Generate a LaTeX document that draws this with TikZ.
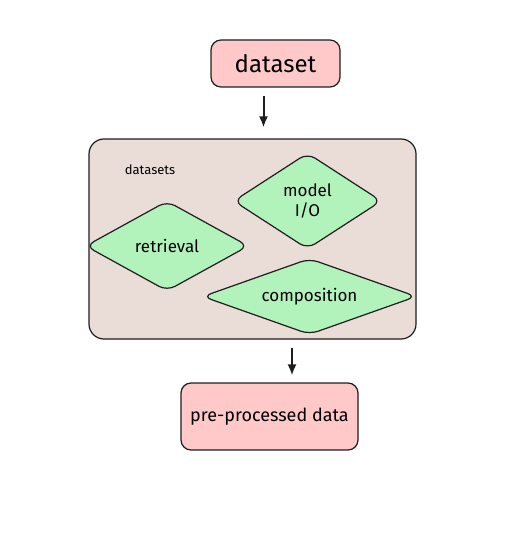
\documentclass[tikz,border=0pt]{standalone}
\usepackage{fontspec}
\setmainfont{Fira Sans}
\usepackage{tikz}
\usetikzlibrary{shapes.geometric,arrows.meta}

\definecolor{pinkfill}{HTML}{FFC9C9}
\definecolor{greenfill}{HTML}{B2F2BB}
\definecolor{framefill}{HTML}{EADDD7}
\definecolor{ink}{HTML}{1E1E1E}

\tikzset{
  databox/.style={draw=ink,line width=1.2pt,fill=pinkfill,rounded corners=10pt,inner sep=0pt},
  groupbox/.style={draw=ink,line width=1.2pt,fill=framefill,rounded corners=15pt},
  module/.style={diamond,aspect=2.5,draw=ink,line width=1.2pt,fill=greenfill,rounded corners=9pt,
    inner sep=0pt,align=center,font=\fontsize{17}{20}\selectfont},
  arr/.style={-{Latex[length=11pt,width=9pt]},draw=ink,line width=2pt}
}

\begin{document}
\begin{tikzpicture}[x=1pt,y=-1pt]
\useasboundingbox (0,0) rectangle (526,540);

%% input and output
\node[databox,minimum width=129pt,minimum height=47pt,font=\fontsize{24}{28}\selectfont]
  (dataset) at (275.5,63.5) {dataset};
\node[databox,minimum width=177pt,minimum height=67pt,font=\fontsize{18}{21}\selectfont]
  (result) at (269.5,416.5) {pre-processed data};

%% group of datasets
\node[groupbox,minimum width=327pt,minimum height=200pt] (frame) at (252.5,239) {};
\node[font=\fontsize{13}{15}\selectfont] (label) at (150,170) {datasets};

\node[module,minimum width=148pt,minimum height=96pt] (modelio) at (307.5,201) {model\\I/O};
\node[module,minimum width=163pt,minimum height=90pt] (retrieval) at (167,246) {retrieval};
\node[module,minimum width=214pt,minimum height=76pt] (composition) at (309.5,296.5) {composition};

%% arrows
\draw[arr] ([xshift=-12pt,yshift=-8pt]dataset.south) -- ([xshift=-12pt,yshift=11pt]frame.north -| dataset.south);
\draw[arr] ([xshift=22.5pt,yshift=-8pt]result.north |- frame.south) -- ([xshift=22.5pt,yshift=7pt]result.north);
\end{tikzpicture}
\end{document}
